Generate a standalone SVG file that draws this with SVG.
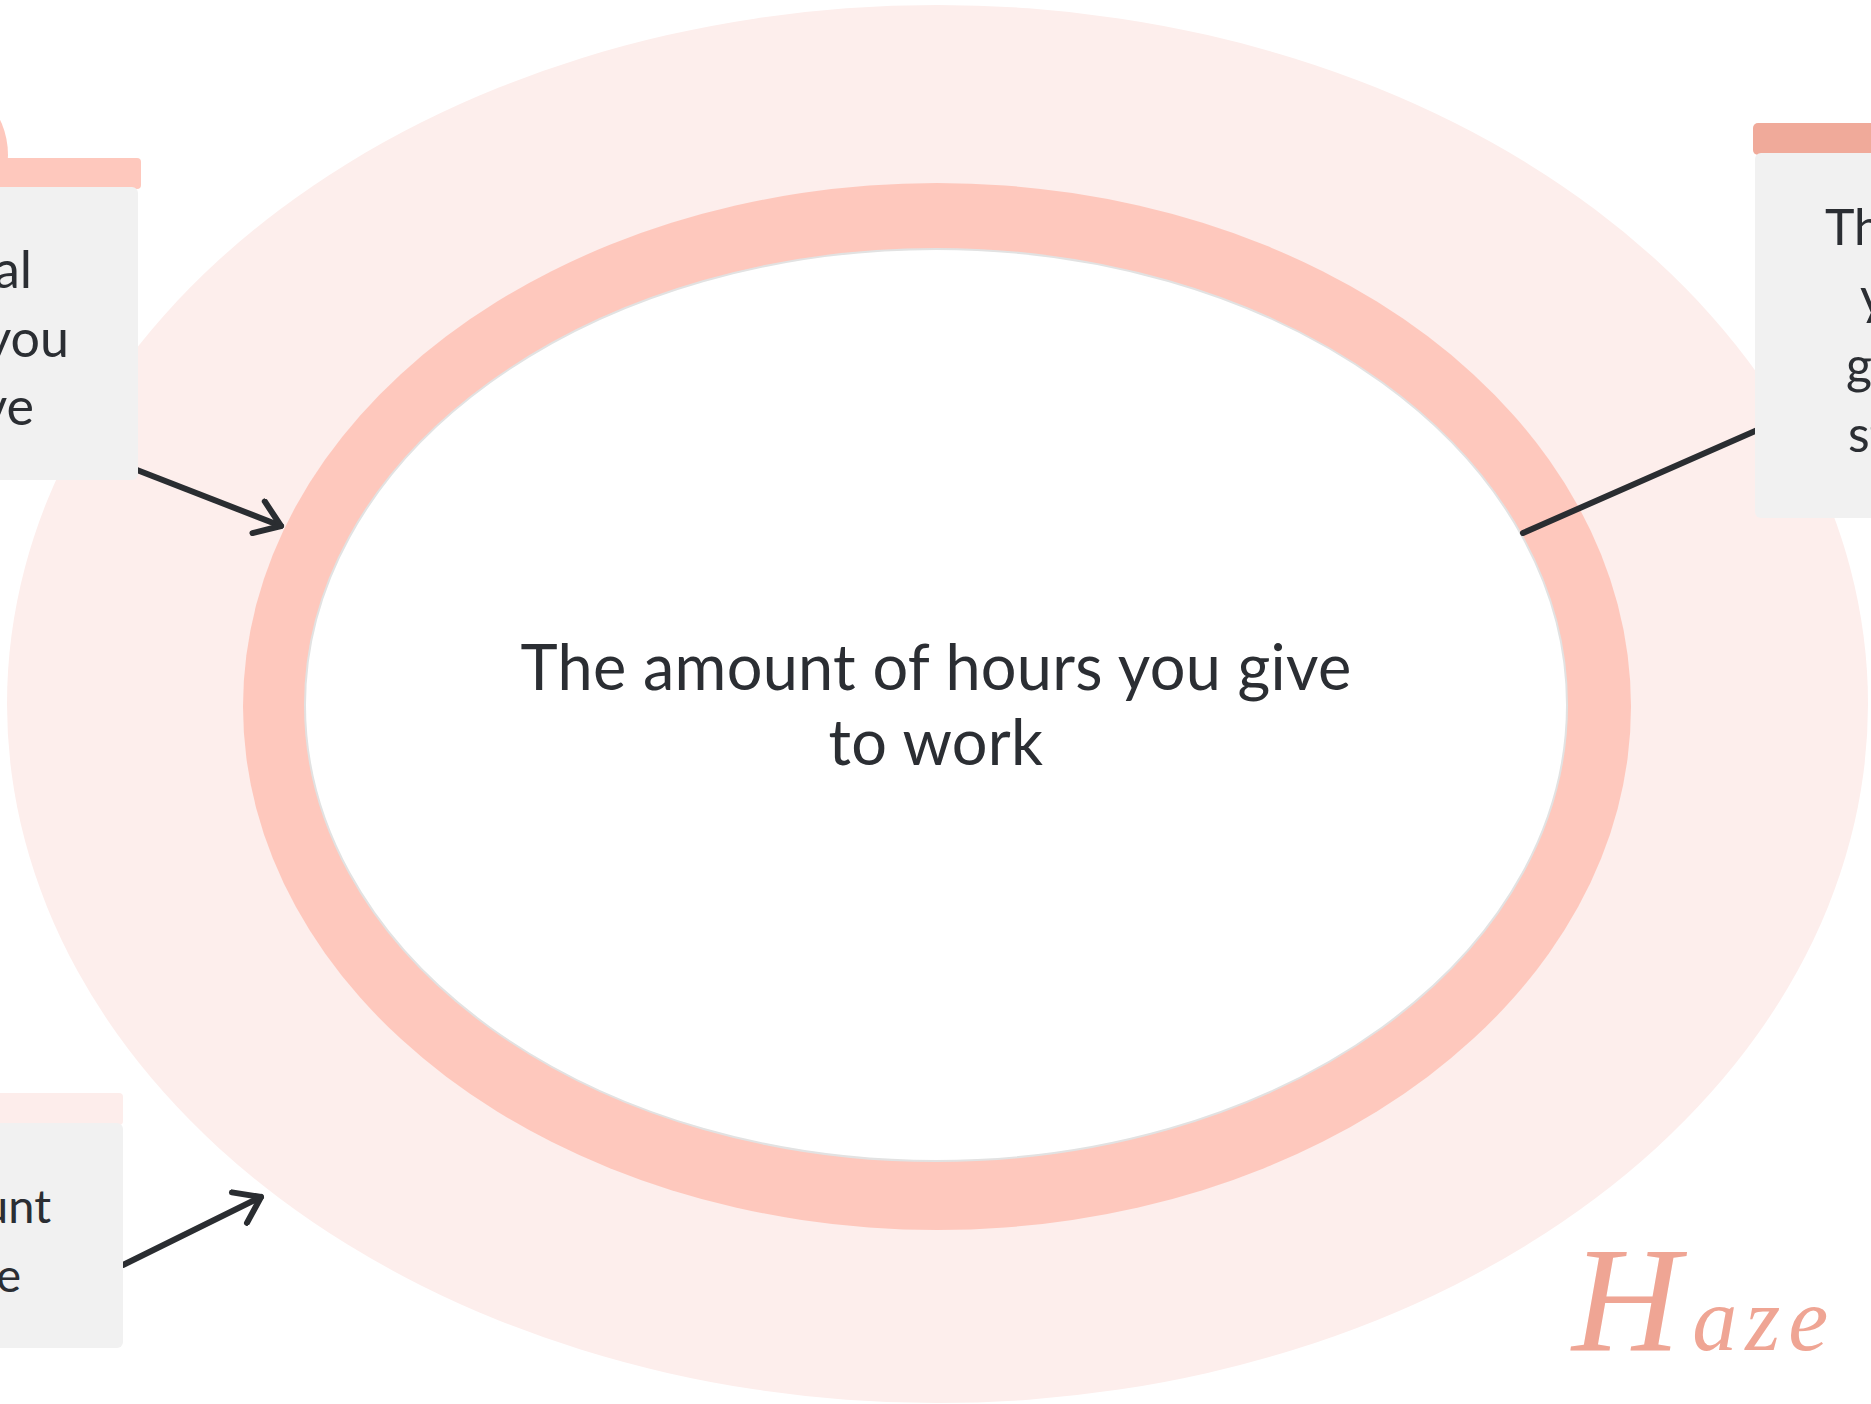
<svg xmlns="http://www.w3.org/2000/svg" width="1871" height="1404" viewBox="0 0 1871 1404">
  <defs>
    <style>
      .box { fill: #F1F1F1; }
      .lbl { font-family: Lato, "Liberation Sans", sans-serif; fill: #2B2E33; }
      .side { font-size: 52px; }
      .small { font-size: 47px; }
      .cond { font-family: Lato, "Liberation Sans", sans-serif; font-size: 50px; fill: #2B2E33; }
      .conn { stroke: #2A2D31; stroke-width: 6; stroke-linecap: round; fill: none; }
    </style>
    <marker id="head" markerUnits="userSpaceOnUse" markerWidth="40" markerHeight="40" viewBox="-30 -20 40 40" refX="0" refY="0" orient="auto">
      <path d="M -24 -17 L 0 0 L -24 17" fill="none" stroke="#2A2D31" stroke-width="6" stroke-linecap="round" stroke-linejoin="round"/>
    </marker>
  </defs>
  <rect width="1871" height="1404" fill="#FFFFFF"/>

  <g id="rings">
    <ellipse cx="937.5" cy="704" rx="930.5" ry="699" fill="#FDEEEC"/>
    <ellipse cx="937" cy="706.5" rx="694" ry="523.5" fill="#FEC8BD"/>
    <ellipse cx="936" cy="705" rx="631" ry="456" fill="#FFFFFF" stroke="#E2E2E2" stroke-width="2"/>
  </g>

  <g id="connectors">
    <line class="conn" x1="137" y1="470" x2="281" y2="526" marker-end="url(#head)"/>
    <line class="conn" x1="123" y1="1265" x2="261" y2="1197" marker-end="url(#head)"/>
    <line class="conn" x1="1523" y1="533" x2="1762" y2="428"/>
  </g>

  <g id="center-node">
    <text class="lbl" x="936" y="690" font-size="63" text-anchor="middle" letter-spacing="0.3">The amount of hours you give</text>
    <text class="lbl" x="936" y="765" font-size="63" text-anchor="middle" letter-spacing="0.3">to work</text>
  </g>

  <g id="node-top-left">
    <circle cx="-74" cy="155" r="82" fill="#FEC8BD"/>
    <rect x="-10" y="158" width="151" height="31" rx="4" fill="#FEC8BD"/>
    <rect class="box" x="-10" y="187" width="148" height="293" rx="6"/>
    <text class="lbl side" x="32" y="288" text-anchor="end">al</text>
    <text class="lbl side" x="69" y="357" text-anchor="end">you</text>
    <text class="lbl side" x="34" y="425" text-anchor="end">ve</text>
  </g>

  <g id="node-right">
    <rect x="1753" y="123" width="130" height="32" rx="5" fill="#F0AA9A"/>
    <rect class="box" x="1755" y="153" width="130" height="365" rx="6"/>
    <text class="cond" x="1825" y="245">Th</text>
    <text class="cond" x="1860" y="314">y</text>
    <text class="cond" x="1846" y="383">g</text>
    <text class="cond" x="1848" y="452">st</text>
  </g>

  <g id="node-bottom-left">
    <rect x="-10" y="1093" width="133" height="32" rx="4" fill="#FDEDEB"/>
    <rect class="box" x="-10" y="1123" width="133" height="225" rx="6"/>
    <text class="lbl small" x="51" y="1223" text-anchor="end">unt</text>
    <text class="lbl small" x="21" y="1292" text-anchor="end">e</text>
  </g>

  <g id="signature">
    <text x="1572" y="1350" font-family="'Liberation Serif', serif" font-style="italic" fill="#EFA594"><tspan font-size="150" letter-spacing="12">H</tspan><tspan font-size="90" letter-spacing="8">aze</tspan></text>
  </g>
</svg>
